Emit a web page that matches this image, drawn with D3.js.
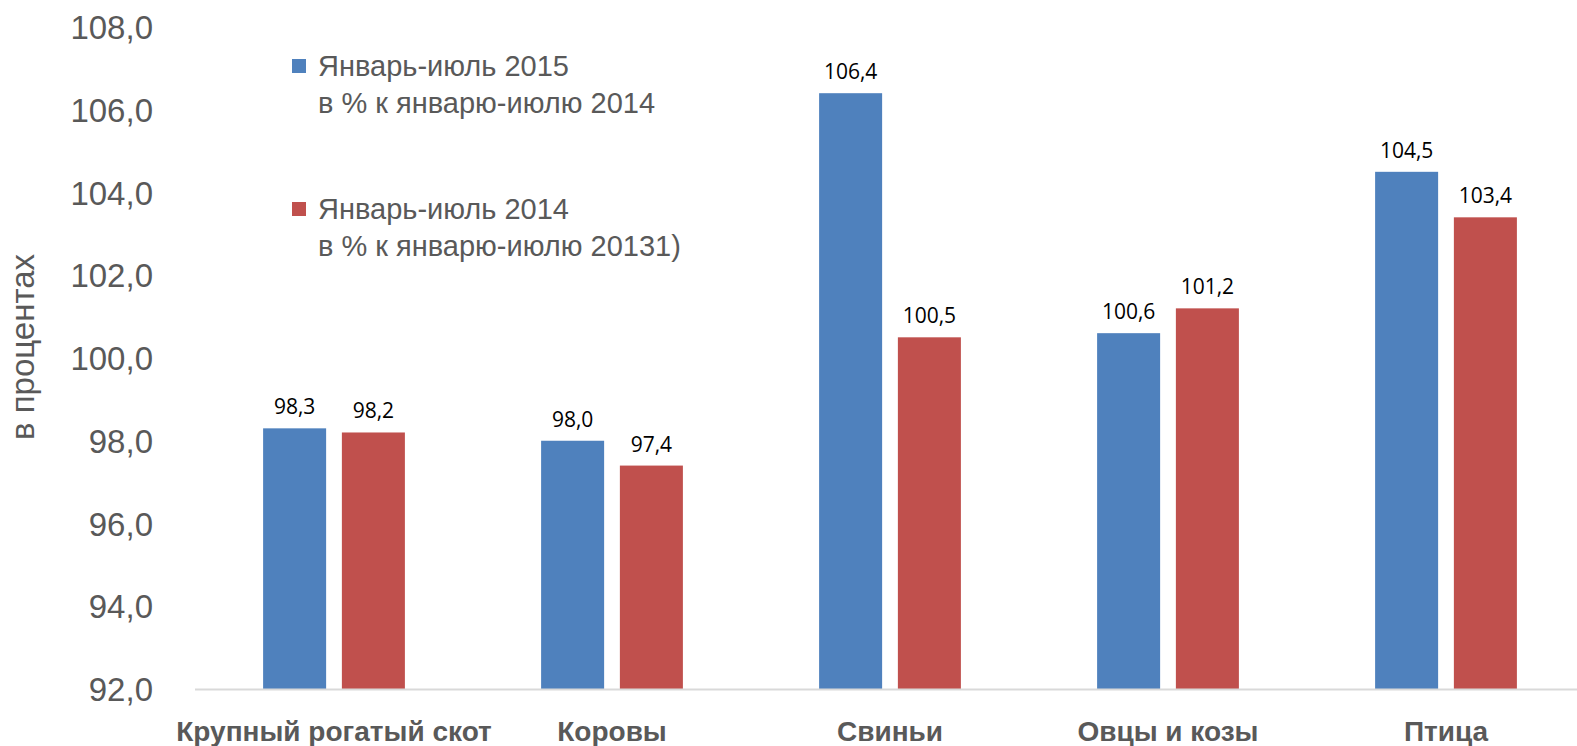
<!DOCTYPE html>
<html>
<head>
<meta charset="utf-8">
<script src="https://cdn.jsdelivr.net/npm/d3@7"></script>
<style>
  body { margin: 0; background: #fff; }
  svg { display: block; }
</style>
</head>
<body>
<div id="chart"></div>
<script>
// data
var categories = ["Крупный рогатый скот", "Коровы", "Свиньи", "Овцы и козы", "Птица"];
var seriesNames = [
    ["Январь-июль 2015", "в % к январю-июлю 2014"],
    ["Январь-июль 2014", "в % к январю-июлю 20131)"]
];
var values2015 = [98.3, 98.0, 106.4, 100.6, 104.5];
var values2014 = [98.2, 97.4, 100.5, 101.2, 103.4];
var yTicks = [92, 94, 96, 98, 100, 102, 104, 106, 108];
var colors = ["#4F81BD", "#C0504D"];

var width = 1577, height = 746;
var margin = {top: 27, right: 0, bottom: 56, left: 195};
var fmt = function (v) { return v.toFixed(1).replace(".", ","); };
var narrow = "'Liberation Sans Narrow', 'Liberation Sans', sans-serif";

var svg = d3.select("#chart")
    .append("svg")
    .attr("width", width)
    .attr("height", height);

var y = d3.scaleLinear()
    .domain([92, 108])
    .range([height - margin.bottom - 1, margin.top]);

// plot runs a bit past the right edge, as in the original
var x0 = d3.scaleBand()
    .domain(categories)
    .range([margin.left, margin.left + 5 * 278])
    .paddingInner(0.49)
    .paddingOuter(0.245);

var x1 = d3.scaleBand()
    .domain([0, 1])
    .range([0, x0.bandwidth()])
    .paddingInner(0.2);

// y axis labels
var yAxis = d3.axisLeft(y)
    .tickValues(yTicks)
    .tickFormat(fmt)
    .tickSize(0)
    .tickPadding(0);

svg.append("g")
    .attr("transform", "translate(153,0)")
    .call(yAxis)
    .call(function (g) { g.select(".domain").remove(); })
    .selectAll("text")
    .attr("font-family", narrow)
    .attr("font-size", 33)
    .attr("fill", "#595959")
    .attr("dy", "0.35em");

// y title
svg.append("text")
    .attr("transform", "translate(34,347) rotate(-90)")
    .attr("text-anchor", "middle")
    .attr("font-family", "'Liberation Sans', sans-serif")
    .attr("font-size", 33)
    .attr("fill", "#595959")
    .text("в процентах");

var series = [values2015, values2014];

var groups = svg.append("g")
    .selectAll("g")
    .data(categories)
    .enter().append("g")
    .attr("transform", function (d) { return "translate(" + x0(d) + ",0)"; });

groups.selectAll("rect")
    .data(function (d, i) { return [0, 1].map(function (s) { return {s: s, v: series[s][i]}; }); })
    .enter().append("rect")
    .attr("x", function (d) { return x1(d.s); })
    .attr("width", x1.bandwidth())
    .attr("y", function (d) { return y(d.v); })
    .attr("height", function (d) { return y(92) - y(d.v); })
    .attr("fill", function (d) { return colors[d.s]; });

groups.selectAll("text.val")
    .data(function (d, i) { return [0, 1].map(function (s) { return {s: s, v: series[s][i]}; }); })
    .enter().append("text")
    .attr("class", "val")
    .attr("x", function (d) { return x1(d.s) + x1.bandwidth() / 2; })
    .attr("y", function (d) { return y(d.v) - 14; })
    .attr("text-anchor", "middle")
    .attr("font-family", "'Open Sans', sans-serif")
    .attr("font-size", 21)
    .attr("fill", "#000")
    .text(function (d) { return fmt(d.v); });

// x axis line
svg.append("line")
    .attr("x1", margin.left)
    .attr("x2", width)
    .attr("y1", y(92) + 0.5)
    .attr("y2", y(92) + 0.5)
    .attr("stroke", "#d9d9d9")
    .attr("stroke-width", 2);

// category labels
svg.append("g")
    .selectAll("text")
    .data(categories)
    .enter().append("text")
    .attr("x", function (d) { return x0(d) + x0.bandwidth() / 2; })
    .attr("y", 741)
    .attr("text-anchor", "middle")
    .attr("font-family", narrow)
    .attr("font-weight", "bold")
    .attr("font-size", 28)
    .attr("fill", "#595959")
    .text(function (d) { return d; });

// legend
var legendY = [66, 209];
var legend = svg.append("g")
    .selectAll("g")
    .data(seriesNames)
    .enter().append("g")
    .attr("transform", function (d, i) { return "translate(292," + legendY[i] + ")"; });

legend.append("rect")
    .attr("x", 0)
    .attr("y", -7)
    .attr("width", 14)
    .attr("height", 14)
    .attr("fill", function (d, i) { return colors[i]; });

legend.append("text")
    .attr("font-family", narrow)
    .attr("font-size", 29)
    .attr("fill", "#595959")
    .selectAll("tspan")
    .data(function (d) { return d; })
    .enter().append("tspan")
    .attr("x", 26)
    .attr("y", function (d, i) { return i * 37; })
    .attr("dy", "0.35em")
    .text(function (d) { return d; });
</script>
</body>
</html>
